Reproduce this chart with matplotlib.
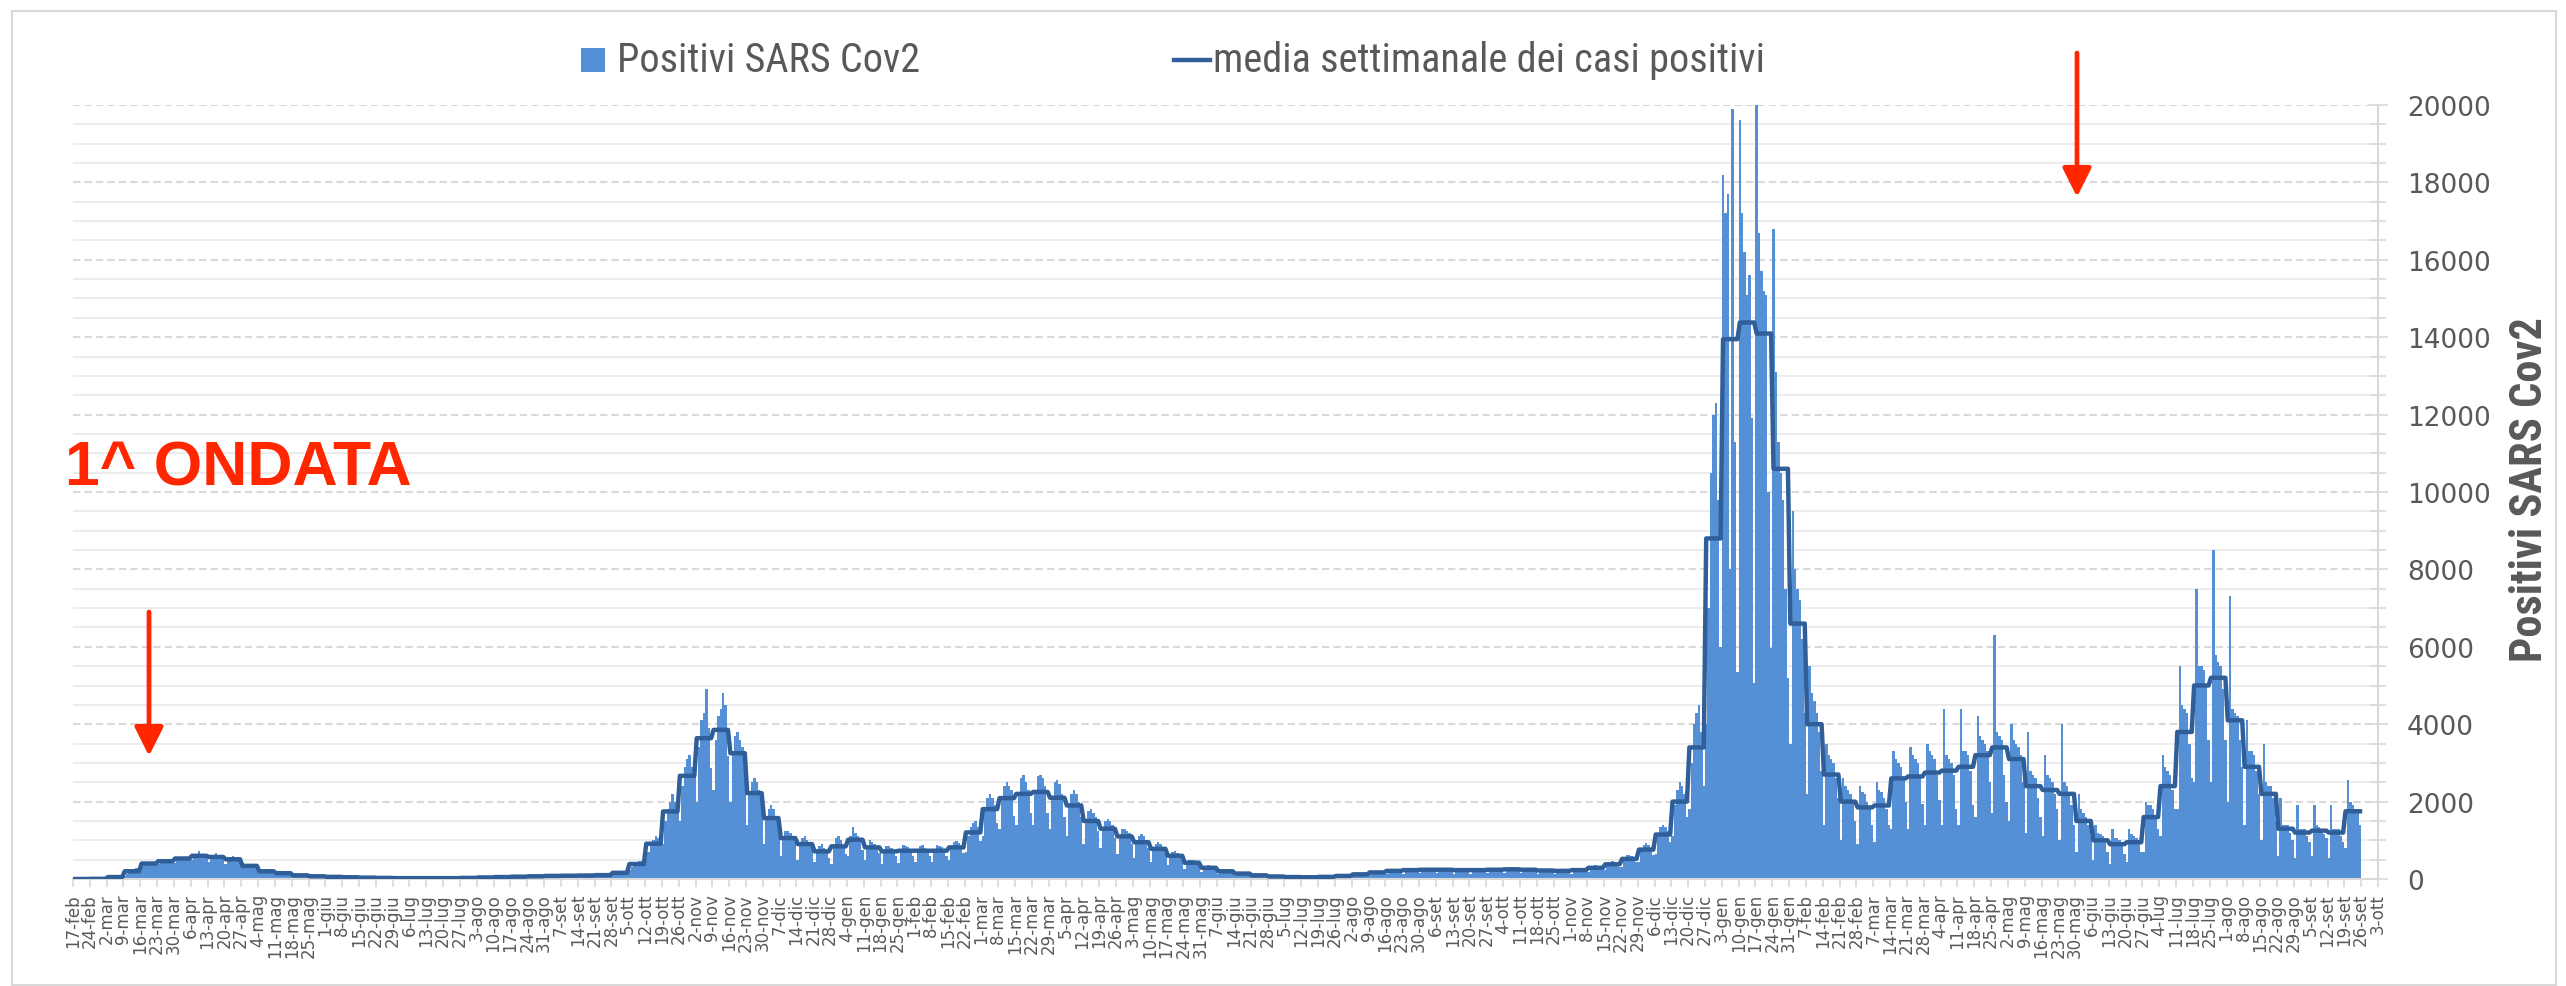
import numpy as np
import matplotlib
matplotlib.use("Agg")
import matplotlib.pyplot as plt
from matplotlib import font_manager as fm
from matplotlib.ticker import MultipleLocator, FixedLocator
from matplotlib.patches import Rectangle
from matplotlib.lines import Line2D

# ---------------- data ----------------
week_labels = [
    "17-feb", "24-feb", "2-mar", "9-mar", "16-mar", "23-mar", "30-mar", "6-apr", "13-apr", "20-apr",
    "27-apr", "4-mag", "11-mag", "18-mag", "25-mag", "1-giu", "8-giu", "15-giu", "22-giu", "29-giu",
    "6-lug", "13-lug", "20-lug", "27-lug", "3-ago", "10-ago", "17-ago", "24-ago", "31-ago", "7-set",
    "14-set", "21-set", "28-set", "5-ott", "12-ott", "19-ott", "26-ott", "2-nov", "9-nov", "16-nov",
    "23-nov", "30-nov", "7-dic", "14-dic", "21-dic", "28-dic",
    "4-gen", "11-gen", "18-gen", "25-gen", "1-feb", "8-feb", "15-feb", "22-feb", "1-mar", "8-mar",
    "15-mar", "22-mar", "29-mar", "5-apr", "12-apr", "19-apr", "26-apr", "3-mag", "10-mag", "17-mag",
    "24-mag", "31-mag", "7-giu", "14-giu", "21-giu", "28-giu", "5-lug", "12-lug", "19-lug", "26-lug",
    "2-ago", "9-ago", "16-ago", "23-ago", "30-ago", "6-set", "13-set", "20-set", "27-set", "4-ott",
    "11-ott", "18-ott", "25-ott", "1-nov", "8-nov", "15-nov", "22-nov", "29-nov", "6-dic", "13-dic",
    "20-dic", "27-dic",
    "3-gen", "10-gen", "17-gen", "24-gen", "31-gen", "7-feb", "14-feb", "21-feb", "28-feb", "7-mar",
    "14-mar", "21-mar", "28-mar", "4-apr", "11-apr", "18-apr", "25-apr", "2-mag", "9-mag", "16-mag",
    "23-mag", "30-mag", "6-giu", "13-giu", "20-giu", "27-giu", "4-lug", "11-lug", "18-lug", "25-lug",
    "1-ago", "8-ago", "15-ago", "22-ago", "29-ago", "5-set", "12-set", "19-set", "26-set", "3-ott",
]

# weekly mean of positive cases (one value per Monday-Sunday week)
weekly_mean_2020 = [0, 5, 50, 200, 400, 460, 530, 600, 570, 510, 340, 200, 150, 95, 70, 55, 45, 35,
                    28, 22, 20, 20, 22, 28, 40, 50, 60, 70, 80, 85, 90, 100, 160, 387, 912, 1746,
                    2666, 3638, 3853, 3251, 2219, 1574, 1058, 903, 714, 843]
weekly_mean_2021 = [1015, 817, 714, 731, 731, 731, 817, 1204, 1806, 2090, 2200, 2250, 2100, 1900,
                    1500, 1300, 1100, 950, 780, 600, 420, 290, 200, 140, 95, 65, 50, 45, 55, 80, 120,
                    170, 210, 230, 240, 240, 230, 230, 240, 250, 240, 220, 210, 230, 290, 380, 520,
                    760, 1150, 2000, 3400, 8800]
weekly_mean_2022 = [13950, 14380, 14095, 10600, 6600, 4000, 2700, 2000, 1850, 1900, 2600, 2650, 2750,
                    2800, 2900, 3200, 3400, 3100, 2400, 2300, 2200, 1500, 1000, 900, 950, 1600, 2400,
                    3800, 5000, 5200, 4100, 2900, 2200, 1300, 1200, 1250, 1200, 1750]

# daily positive cases, Monday..Sunday
daily_2020 = [
    0, 0, 0, 0, 0, 0, 0,
    0, 2, 3, 5, 8, 10, 7,
    15, 25, 40, 55, 70, 75, 70,
    90, 130, 170, 210, 250, 280, 270,
    300, 350, 400, 420, 440, 450, 440,
    380, 430, 470, 500, 490, 480, 470,
    420, 480, 560, 580, 560, 550, 560,
    480, 560, 640, 720, 650, 560, 590,
    450, 520, 600, 680, 600, 560, 580,
    400, 470, 540, 600, 560, 500, 500,
    300, 330, 380, 400, 350, 310, 310,
    180, 200, 230, 220, 200, 180, 190,
    130, 150, 170, 160, 150, 140, 150,
    80, 90, 110, 105, 100, 90, 90,
    60, 70, 80, 75, 70, 65, 70,
    45, 55, 60, 60, 55, 55, 55,
    40, 45, 50, 50, 45, 40, 45,
    30, 35, 40, 38, 35, 32, 35,
    22, 28, 32, 30, 28, 26, 30,
    18, 22, 26, 24, 22, 20, 22,
    16, 20, 22, 22, 20, 20, 20,
    16, 20, 22, 22, 20, 20, 20,
    18, 22, 26, 24, 22, 20, 22,
    22, 28, 32, 30, 28, 26, 30,
    32, 40, 45, 44, 40, 38, 41,
    40, 50, 56, 55, 50, 48, 51,
    45, 60, 68, 66, 62, 58, 61,
    55, 70, 80, 76, 72, 68, 69,
    60, 80, 90, 88, 84, 78, 80,
    65, 85, 95, 92, 90, 84, 84,
    70, 90, 100, 98, 95, 88, 89,
    75, 100, 112, 110, 106, 98, 99,
    100, 140, 170, 180, 185, 170, 175,
    220, 300, 380, 420, 470, 460, 459,
    550, 700, 900, 1000, 1100, 1050, 1084,
    900, 1500, 1800, 2000, 2200, 2000, 1822,
    1500, 2400, 2900, 3100, 3200, 2900, 2662,
    2000, 3400, 4100, 4300, 4900, 3900, 2866,
    2300, 3600, 4200, 4400, 4800, 4500, 3171,
    2000, 3300, 3700, 3800, 3600, 3400, 2957,
    1400, 2200, 2500, 2600, 2500, 2300, 2033,
    900, 1600, 1800, 1900, 1800, 1600, 1418,
    600, 1050, 1250, 1250, 1200, 1100, 956,
    500, 900, 1050, 1100, 1000, 950, 821,
    450, 750, 850, 900, 800, 700, 548,
    400, 900, 1050, 1100, 1000, 800, 651,
]
daily_2021 = [
    600, 1100, 1350, 1200, 1100, 1000, 755,
    500, 850, 1000, 950, 900, 850, 669,
    400, 750, 850, 850, 800, 750, 598,
    420, 780, 880, 860, 820, 760, 597,
    450, 760, 860, 880, 800, 770, 597,
    440, 770, 870, 850, 830, 760, 597,
    480, 850, 950, 980, 920, 860, 679,
    700, 1100, 1350, 1450, 1500, 1350, 978,
    1100, 1800, 2100, 2200, 2100, 1900, 1442,
    1300, 2100, 2400, 2500, 2400, 2300, 1630,
    1400, 2200, 2600, 2700, 2500, 2300, 1700,
    1400, 2300, 2650, 2700, 2600, 2400, 1700,
    1300, 2100, 2500, 2550, 2450, 2200, 1600,
    1100, 1900, 2200, 2300, 2200, 2000, 1600,
    900, 1500, 1750, 1800, 1700, 1600, 1250,
    800, 1300, 1500, 1550, 1500, 1400, 1050,
    650, 1100, 1300, 1300, 1250, 1200, 900,
    550, 950, 1100, 1150, 1100, 1000, 800,
    450, 780, 900, 950, 900, 820, 660,
    350, 600, 700, 720, 680, 650, 500,
    250, 420, 490, 500, 480, 440, 360,
    170, 290, 340, 350, 330, 300, 250,
    120, 200, 230, 240, 230, 210, 170,
    80, 140, 165, 170, 160, 150, 115,
    55, 95, 110, 115, 110, 100, 80,
    40, 65, 75, 78, 75, 68, 54,
    30, 50, 58, 60, 58, 52, 42,
    28, 45, 52, 54, 52, 46, 38,
    33, 55, 64, 66, 64, 58, 45,
    48, 80, 93, 96, 93, 85, 65,
    70, 120, 140, 145, 140, 125, 100,
    100, 170, 200, 205, 195, 180, 140,
    125, 210, 245, 255, 240, 220, 175,
    140, 230, 270, 275, 265, 240, 190,
    145, 240, 280, 290, 275, 250, 200,
    150, 235, 285, 285, 270, 255, 200,
    140, 230, 270, 275, 265, 240, 190,
    135, 235, 265, 280, 260, 245, 190,
    145, 240, 280, 290, 275, 250, 200,
    150, 250, 290, 300, 290, 260, 210,
    150, 235, 285, 285, 270, 255, 200,
    130, 220, 255, 265, 250, 235, 185,
    125, 210, 245, 255, 240, 220, 175,
    140, 230, 270, 275, 265, 240, 190,
    170, 290, 340, 350, 330, 300, 250,
    230, 380, 440, 460, 440, 400, 310,
    300, 520, 610, 630, 600, 550, 430,
    450, 760, 880, 920, 880, 800, 630,
    650, 1100, 1350, 1400, 1350, 1250, 950,
    1100, 1900, 2300, 2500, 2400, 2200, 1600,
    1800, 3000, 4000, 4300, 4500, 3800, 2400,
    4000, 7000, 10500, 12000, 12300, 9800, 6000,
]
daily_2022 = [
    18200, 17200, 17700, 8000, 19900, 11300, 5350,
    19600, 17200, 16200, 15100, 15600, 11900, 5060,
    20000, 16700, 15700, 15200, 15100, 10000, 5965,
    16800, 13100, 11300, 10500, 9800, 7500, 5200,
    3500, 9500, 8000, 7500, 7200, 6200, 4300,
    2200, 5500, 4800, 4600, 4300, 3800, 2800,
    1400, 3500, 3200, 3100, 3000, 2600, 2100,
    1000, 2600, 2400, 2300, 2200, 2000, 1500,
    900, 2400, 2250, 2200, 2000, 1800, 1400,
    950, 2500, 2300, 2250, 2100, 1800, 1400,
    1300, 3300, 3100, 3000, 2900, 2600, 2000,
    1300, 3400, 3200, 3100, 3000, 2600, 1950,
    1400, 3500, 3300, 3200, 3100, 2700, 2050,
    1400, 4400, 3200, 3100, 3000, 2700, 1800,
    1400, 4400, 3300, 3300, 3200, 2800, 1900,
    1600, 4200, 3700, 3600, 3500, 3300, 2500,
    1700, 6300, 3800, 3700, 3600, 2700, 2000,
    1500, 4000, 3600, 3500, 3400, 3200, 2500,
    1200, 3800, 2800, 2700, 2600, 2100, 1600,
    1100, 3200, 2700, 2600, 2500, 2200, 1800,
    1000, 4000, 2500, 2400, 2200, 1900, 1400,
    700, 2200, 1800, 1700, 1600, 1400, 1100,
    500, 1400, 1200, 1150, 1100, 950, 700,
    400, 1300, 1050, 1050, 1000, 850, 650,
    450, 1300, 1150, 1100, 1050, 900, 700,
    700, 2000, 1900, 1900, 1800, 1600, 1300,
    1100, 3200, 2900, 2800, 2700, 2300, 1800,
    1800, 5500, 4500, 4400, 4300, 3500, 2600,
    2500, 7500, 5500, 5500, 5400, 5000, 3600,
    2500, 8500, 5800, 5600, 5500, 4900, 3600,
    2000, 7300, 4400, 4300, 4200, 3600, 2900,
    1400, 4100, 3300, 3300, 3200, 2800, 2200,
    1000, 3500, 2500, 2400, 2400, 2100, 1500,
    600, 2100, 1400, 1400, 1400, 1200, 1000,
    550, 1900, 1300, 1300, 1300, 1100, 950,
    600, 1900, 1400, 1350, 1300, 1150, 1050,
    550, 1900, 1300, 1300, 1300, 1100, 950,
    800, 2550, 2000, 1900, 1800, 1800, 1400,
]

# ---------------- style ----------------
W, H = 2566, 987
bar_color = "#5590d6"
line_color = "#2f5e98"
grid_major = "#d9d9d9"
grid_minor = "#ececec"
text_gray = "#595959"
red = "#ff2600"

installed = {f.name for f in fm.fontManager.ttflist}
narrow = next((n for n in ["Liberation Sans Narrow", "Roboto Condensed", "DejaVu Sans Condensed",
                           "Liberation Sans"] if n in installed), "DejaVu Sans")

daily = np.array(daily_2020 + daily_2021 + daily_2022, dtype=float)
weekly = np.array(weekly_mean_2020 + weekly_mean_2021 + weekly_mean_2022, dtype=float)
days = np.arange(len(daily))
weekly_daily = np.repeat(weekly, 7)[: len(daily)]

fig = plt.figure(figsize=(W / 100, H / 100), dpi=100)
fig.patch.set_facecolor("white")

left, right, top, bottom = 73, 2378, 106, 880
ax = fig.add_axes([left / W, 1 - bottom / H, (right - left) / W, (bottom - top) / H])

ax.bar(days + 0.5, daily, width=1.0, color=bar_color, linewidth=0, antialiased=False, zorder=2)
ax.plot(days + 0.5, weekly_daily, color=line_color, lw=3.2, solid_joinstyle="round", zorder=3)

n_ticks = len(week_labels)
ax.set_xlim(0, 7 * (n_ticks - 1))
ax.set_ylim(0, 20000)

ax.xaxis.set_major_locator(FixedLocator([7 * i for i in range(n_ticks)]))
ax.set_xticklabels(week_labels, rotation=90, fontsize=12, color=text_gray, family="DejaVu Sans")
ax.tick_params(axis="x", direction="out", length=6, width=1.2, color=grid_major, pad=4)

ax.yaxis.tick_right()
ax.yaxis.set_major_locator(MultipleLocator(2000))
ax.yaxis.set_minor_locator(MultipleLocator(500))
ax.tick_params(axis="y", which="major", direction="inout", length=14, width=1.2, color=grid_major,
               labelsize=19, labelcolor=text_gray, pad=14)
ax.tick_params(axis="y", which="minor", direction="inout", length=11, width=1.2, color=grid_major)
ax.tick_params(axis="y", which="both", left=False, labelleft=False)
ax.grid(axis="y", which="major", color=grid_major, lw=1.5, linestyle=(0, (3.5, 2)))
ax.grid(axis="y", which="minor", color=grid_minor, lw=1.5, linestyle="-")
ax.grid(axis="x", visible=False)
ax.set_axisbelow(True)

for s in ["left", "top"]:
    ax.spines[s].set_visible(False)
for s in ["right", "bottom"]:
    ax.spines[s].set_color(grid_major)
    ax.spines[s].set_linewidth(1.5)
ax.set_facecolor("none")

# y-axis title
fig.text(2530 / W, 1 - 490 / H, "Positivi SARS Cov2", rotation=90, ha="center", va="center",
         fontsize=32, fontweight="bold", color=text_gray, family=[narrow, "DejaVu Sans"])

# legend (manual, as in the original layout)
fig.add_artist(Rectangle((581 / W, 1 - 73 / H), 24 / W, 24 / H, transform=fig.transFigure,
                         facecolor=bar_color, edgecolor="none"))
fig.text(617 / W, 1 - 61 / H, "Positivi SARS Cov2", ha="left", va="center", fontsize=29,
         color=text_gray, family=[narrow, "DejaVu Sans"])
fig.add_artist(Line2D([1174 / W, 1210 / W], [1 - 61 / H, 1 - 61 / H], transform=fig.transFigure,
                      color=line_color, lw=3.2))
fig.text(1213 / W, 1 - 61 / H, "media settimanale dei casi positivi", ha="left", va="center",
         fontsize=29, color=text_gray, family=[narrow, "DejaVu Sans"])

# annotations
fig.text(65 / W, 1 - 486 / H, "1^ ONDATA", ha="left", va="baseline", fontsize=45,
         fontweight="bold", color=red, family=["Liberation Sans", "DejaVu Sans"])
arrow_style = "-|>,head_length=0.8,head_width=0.4"
for x0, y0, y1 in [(149, 613, 757), (2077, 54, 198)]:
    ax.annotate("", xy=(x0, H - y1), xycoords="figure pixels", xytext=(x0, H - y0),
                textcoords="figure pixels",
                arrowprops=dict(arrowstyle=arrow_style, mutation_scale=22, lw=3.4, color=red,
                                shrinkA=0, shrinkB=0), annotation_clip=False)

# chart border
fig.add_artist(Rectangle((12 / W, 1 - 986 / H), (2556 - 12) / W, (986 - 12) / H,
                         transform=fig.transFigure, fill=False, edgecolor=grid_major, lw=1.5))

fig.savefig("out.png", dpi=100, facecolor="white")
